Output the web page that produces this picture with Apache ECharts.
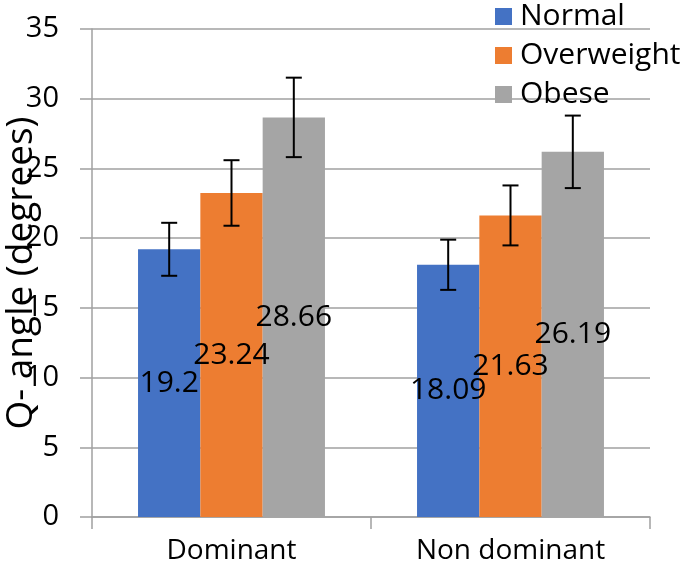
<!DOCTYPE html>
<html>
<head>
<meta charset="utf-8">
<script src="https://cdn.jsdelivr.net/npm/echarts@6/dist/echarts.min.js"></script>
<style>html,body{margin:0;padding:0;background:#fff}#c{width:685px;height:573px}</style>
</head>
<body>
<div id="c"></div>
<script>
const categories = ['Dominant', 'Non dominant'];
const seriesNames = ['Normal', 'Overweight', 'Obese'];
const normal = [19.2, 18.09];
const overweight = [23.24, 21.63];
const obese = [28.66, 26.19];
const normalErr = [1.9, 1.8];
const overweightErr = [2.35, 2.15];
const obeseErr = [2.85, 2.6];
const colors = ['#4472C4', '#ED7D31', '#A5A5A5'];

const FONT = 'Open Sans';
const CAT_GAP = 0.33;
const values = [normal, overweight, obese];
const errs = [normalErr, overweightErr, obeseErr];

const chart = echarts.init(document.getElementById('c'));

const barSeries = values.map((v, i) => ({
  name: seriesNames[i],
  type: 'bar',
  data: v,
  barGap: '0%',
  barCategoryGap: '33%',
  itemStyle: { color: colors[i] },
  label: { show: true, position: 'inside', color: '#000', fontFamily: FONT, fontSize: 30 },
  z: 2
}));

const errSeries = values.map((v, i) => ({
  type: 'custom',
  name: seriesNames[i] + ' err',
  data: v.map((m, k) => [k, m - errs[i][k], m + errs[i][k]]),
  encode: { x: 0, y: [1, 2] },
  z: 5,
  silent: true,
  renderItem: function (params, api) {
    const cat = api.value(0);
    const lo = api.coord([cat, api.value(1)]);
    const hi = api.coord([cat, api.value(2)]);
    const catW = api.size([1, 0])[0];
    const barW = catW * (1 - CAT_GAP) / 3;
    const x = lo[0] + (i - 1) * barW;
    const cap = 8;
    const st = { stroke: '#000', lineWidth: 2 };
    return {
      type: 'group',
      children: [
        { type: 'line', shape: { x1: x, y1: lo[1], x2: x, y2: hi[1] }, style: st },
        { type: 'line', shape: { x1: x - cap, y1: lo[1], x2: x + cap, y2: lo[1] }, style: st },
        { type: 'line', shape: { x1: x - cap, y1: hi[1], x2: x + cap, y2: hi[1] }, style: st }
      ]
    };
  }
}));

chart.setOption({
  animation: false,
  grid: { left: 92, right: 35, top: 29, bottom: 56, containLabel: false, outerBoundsMode: 'none' },
  legend: {
    data: seriesNames,
    orient: 'vertical',
    left: 490,
    top: -5,
    itemWidth: 17,
    itemHeight: 17,
    itemGap: 6,
    icon: 'rect',
    textStyle: { fontFamily: FONT, fontSize: 30, color: '#000', lineHeight: 33, padding: [0, 0, 0, 3] }
  },
  xAxis: {
    type: 'category',
    data: categories,
    axisLine: { lineStyle: { color: '#A0A0A0', width: 1.5 } },
    axisTick: { show: true, length: 12, lineStyle: { color: '#A0A0A0', width: 1.5 } },
    axisLabel: { fontFamily: FONT, fontSize: 28, color: '#000', margin: 20 }
  },
  yAxis: {
    type: 'value',
    min: 0,
    max: 35,
    interval: 5,
    name: 'Q- angle (degrees)',
    nameLocation: 'middle',
    nameGap: 52,
    nameMoveOverlap: false,
    nameTextStyle: { fontFamily: FONT, fontSize: 37, color: '#000' },
    axisLine: { show: true, lineStyle: { color: '#A0A0A0', width: 1.5 } },
    axisTick: { show: true, length: 12, lineStyle: { color: '#A0A0A0', width: 1.5 } },
    axisLabel: { fontFamily: FONT, fontSize: 29, color: '#000', margin: 33 },
    splitLine: { lineStyle: { color: '#A0A0A0', width: 1.5 } }
  },
  series: barSeries.concat(errSeries)
});
</script>
</body>
</html>
